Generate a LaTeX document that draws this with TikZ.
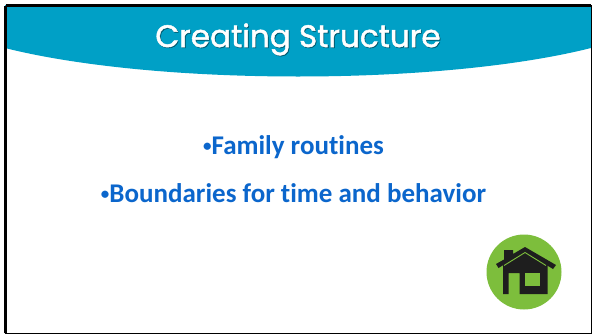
\documentclass[tikz,border=0pt]{standalone}
\usepackage{fontspec}
\setmainfont[Ligatures=CommonOff]{Carlito}
\newfontfamily\titlefont[FakeBold=1.6]{Poppins}
\definecolor{band}{HTML}{00A0C6}
\definecolor{bodyblue}{HTML}{0B66CC}
\definecolor{leaf}{HTML}{7DBE3C}
\definecolor{roof}{HTML}{1E1E1E}
\newcommand{\smallbullet}{{\fontsize{17}{17}\selectfont\raisebox{2.6pt}{•}}}
\tikzset{
  titletext/.style={text=white,font=\titlefont\fontsize{31}{32}\selectfont,inner sep=0pt,anchor=base},
  titleshadow/.style={text=black!45!band,font=\titlefont\fontsize{31}{32}\selectfont,inner sep=0pt,anchor=base},
  bodytext/.style={text=bodyblue,font=\bfseries\fontsize{27}{28}\selectfont,inner sep=0pt,anchor=base}
}
\begin{document}
\begin{tikzpicture}[x=1pt,y=-1pt]
\useasboundingbox (0,0) rectangle (592,335);
\fill[white] (0,0) rectangle (592,335);
\fill[band] (5,5) -- (591,5) -- (591,48) .. controls (440,86) and (156,86) .. (5,48) -- cycle;
\draw[black,line width=2.6pt] (5.5,5.5) -- (590.5,5.5);
\draw[black,line width=2.6pt] (5.5,5.5) -- (5.5,333);
\draw[black,line width=1.4pt] (4.5,333.3) -- (592,333.3);
\draw[black,line width=1pt] (591.2,5) -- (591.2,333);
\node[titleshadow] (ts) at (298.8,47.8) {Creating Structure};
\node[titletext] (t) at (298,47) {Creating Structure};
\node[bodytext] (a) at (293.5,154) {\smallbullet Family routines};
\node[bodytext] (b) at (293.5,202) {\smallbullet Boundaries for time and behavior};
\fill[leaf] (524,272) circle (37.5);
\fill[roof] (503,262) -- (503,294) -- (508.5,294) -- (508.5,273) -- (519.5,273) -- (519.5,294) -- (547.5,294) -- (547.5,262) -- (525,249) -- cycle;
\fill[leaf] (524.5,273) rectangle (540,286);
\fill[roof] (496,264) -- (504,259.5) -- (504,250) -- (513,250) -- (513,254) -- (525,247) -- (556,265) -- (553,269) -- (525,252) -- (498.5,268) -- cycle;
\draw[leaf,line width=.9pt] (504,265.5) -- (525,252.5) -- (546,265.5);
\end{tikzpicture}
\end{document}
